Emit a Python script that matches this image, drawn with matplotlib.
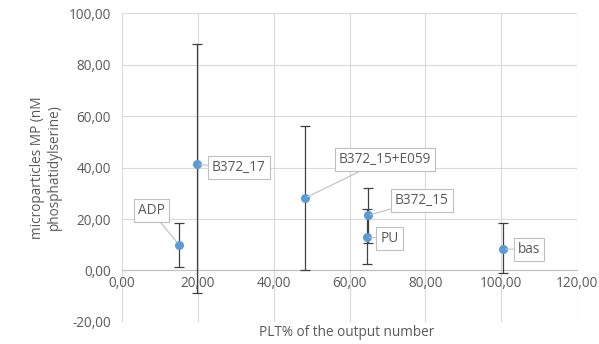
import matplotlib.pyplot as plt
from matplotlib.ticker import FuncFormatter

# data
labels = ["ADP", "B372_17", "B372_15+E059", "B372_15", "PU", "bas"]
plt_pct = [15.0, 19.7, 48.2, 64.8, 64.5, 100.5]
mp_value = [10.0, 41.2, 28.1, 21.4, 12.9, 8.4]
err_low = [1.5, -8.9, 0.0, 10.7, 2.6, -1.0]
err_high = [18.6, 87.8, 56.0, 32.1, 24.0, 18.5]

# label box offsets (pixels) relative to each point
label_offsets = [(-28, 34), (42, -3), (80, 39), (54, 15), (23, -1), (26, -1)]

TEXT = "#595959"
GRID = "#d9d9d9"
FS = 9.8

plt.rcParams['font.family'] = ['Open Sans', 'DejaVu Sans']

fig = plt.figure(figsize=(5.99, 3.44), dpi=100)
ax = fig.add_axes([0.204, 0.064, 0.759, 0.898])

yerr = [[v - lo for v, lo in zip(mp_value, err_low)],
        [hi - v for v, hi in zip(mp_value, err_high)]]
ax.errorbar(plt_pct, mp_value, yerr=yerr, fmt='o', color='#5b9bd5',
            markersize=5.5, ecolor='#404040', elinewidth=0.9,
            capsize=3.5, capthick=0.9, zorder=3)

for lab, x, y, off in zip(labels, plt_pct, mp_value, label_offsets):
    ax.annotate(lab, (x, y), xytext=off, textcoords='offset pixels',
                ha='center', va='center', fontsize=FS, color=TEXT,
                bbox=dict(boxstyle='square,pad=0.3', fc='white', ec='#bfbfbf', lw=0.8),
                arrowprops=dict(arrowstyle='-', color='#bfbfbf', lw=0.8,
                                shrinkA=0, shrinkB=2),
                zorder=4)

ax.set_xlim(0, 120)
ax.set_ylim(-20, 100)
ax.set_xticks(range(0, 121, 20))
ax.set_yticks(range(-20, 101, 20))
fmt = FuncFormatter(lambda v, p: f"{v:.2f}".replace('.', ','))
ax.xaxis.set_major_formatter(fmt)
ax.yaxis.set_major_formatter(fmt)

ax.grid(True, color=GRID, lw=0.8, zorder=0)
ax.set_axisbelow(True)
for s in ['top', 'right', 'left']:
    ax.spines[s].set_visible(False)
ax.spines['bottom'].set_position(('data', 0))
ax.spines['bottom'].set_color('#bfbfbf')
ax.tick_params(axis='both', length=0, labelsize=FS, labelcolor=TEXT)
ax.tick_params(axis='x', pad=4)
ax.tick_params(axis='y', pad=8)

ax.set_ylabel("microparticles MP (nM\nphosphatidylserine)", fontsize=FS,
              color=TEXT, labelpad=5)
fig.text(0.578, 0.032, "PLT% of the output number", ha='center', va='center',
         fontsize=FS, color=TEXT)

fig.savefig("out.png", dpi=100)
